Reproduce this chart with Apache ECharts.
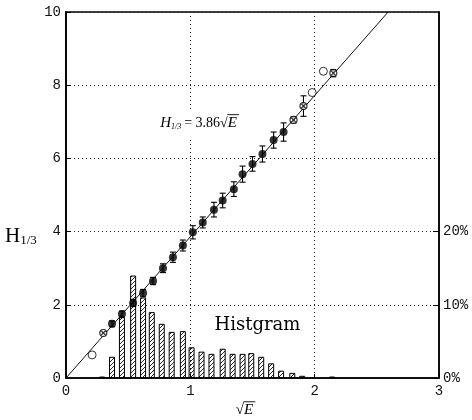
<!DOCTYPE html>
<html>
<head>
<meta charset="utf-8">
<script src="https://cdn.jsdelivr.net/npm/echarts@6/dist/echarts.min.js"></script>
<style>
html,body{margin:0;padding:0;background:#fff}
#c{width:472px;height:420px}
</style>
</head>
<body>
<div id="c"></div>
<script>
// fitted relation H1/3 = 3.86 * sqrt(E)
const slope = 3.86;

// measured points with error bars: [sqrtE, H1/3, halfError]
const filledPts = [
  [0.37,1.48,0.08],[0.45,1.75,0.08],[0.54,2.05,0.10],[0.62,2.32,0.10],
  [0.70,2.65,0.10],[0.78,3.00,0.12],[0.86,3.30,0.14],[0.94,3.62,0.15],
  [1.02,3.98,0.18],[1.10,4.25,0.15],[1.19,4.60,0.20],[1.26,4.85,0.20],
  [1.35,5.16,0.20],[1.42,5.57,0.22],[1.50,5.85,0.20],[1.58,6.12,0.22],
  [1.67,6.50,0.22],[1.75,6.72,0.25]
];
// sparse bins: plain open circles
const openPts = [[0.21,0.63],[1.98,7.80],[2.07,8.38]];
// sparse bins: crossed circles [sqrtE, H1/3, halfError]
const crossPts = [[0.30,1.23,0],[1.83,7.05,0.08],[1.91,7.43,0.28],[2.15,8.33,0.10]];

// occurrence histogram (percent per bin)
const histX   = [0.29,0.37,0.45,0.54,0.62,0.69,0.77,0.85,0.94,1.01,1.09,1.17,1.26,1.34,1.42,1.49,1.57,1.65,1.73,1.82,1.90,2.14];
const histPct = [0.2,2.9,8.3,14.0,11.0,9.0,7.4,6.3,6.4,4.2,3.6,3.3,4.0,3.3,3.3,3.4,2.9,2.0,1.0,0.7,0.3,0.2];

const xTicks = [0,1,2,3];
const yTicks = [0,2,4,6,8,10];
const pctTicks = [0,10,20];

// annotation anchors in data units
const formulaAt = [1.07, 6.97];
const histNoteAt = [1.54, 1.45];

// diagonal hatch fill for histogram bars
function hatch() {
  const c = document.createElement('canvas');
  c.width = 4; c.height = 4;
  const g = c.getContext('2d');
  g.strokeStyle = '#111';
  g.lineWidth = 0.9;
  g.beginPath();
  g.moveTo(0,4); g.lineTo(4,0);
  g.moveTo(-1,1); g.lineTo(1,-1);
  g.moveTo(3,5); g.lineTo(5,3);
  g.stroke();
  return c;
}

function renderErr(params, api) {
  const x = api.value(0), y = api.value(1), e = api.value(2);
  if (!e) return null;
  const t = api.coord([x, y + e]), b = api.coord([x, y - e]);
  const w = 3;
  const st = {stroke:'#000', lineWidth:1.1};
  return {type:'group', children:[
    {type:'line', shape:{x1:t[0],y1:t[1],x2:b[0],y2:b[1]}, style:st},
    {type:'line', shape:{x1:t[0]-w,y1:t[1],x2:t[0]+w,y2:t[1]}, style:st},
    {type:'line', shape:{x1:b[0]-w,y1:b[1],x2:b[0]+w,y2:b[1]}, style:st}
  ]};
}

const crossSymbol = 'path://M0,10A10,10 0 1,1 20,10A10,10 0 1,1 0,10Z M3,3L17,17 M17,3L3,17';

const monoLabel = {fontFamily:'Liberation Mono', fontSize:14, color:'#111'};
const dotted = {color:'#222', width:1, type:[1,3]};
const serif = 'Liberation Serif';

// text measuring for composing formula pieces
const mctx = document.createElement('canvas').getContext('2d');
function textWidth(t, size, italic) {
  mctx.font = (italic ? 'italic ' : '') + size + 'px "' + serif + '"';
  return mctx.measureText(t).width;
}

// lay out pieces left to right around a centre; the piece flagged `bar` gets a vinculum
function composeText(cx, cy, pieces, opts) {
  const widths = pieces.map(p => textWidth(p.t, p.size, p.italic) + (p.gap || 0));
  const total = widths.reduce((a, b) => a + b, 0);
  let x = cx - total / 2;
  const els = [];
  if (opts && opts.bg) {
    els.push({type:'rect', z:9, shape:{x:x - 3, y:cy - 14, width:total + 6, height:28}, style:{fill:'#fff'}});
  }
  pieces.forEach((p, i) => {
    els.push({type:'text', z:10, x:x, y:cy + (p.dy || 0),
      style:{text:p.t, fontFamily:serif, fontSize:p.size, fontStyle:p.italic ? 'italic' : 'normal',
             fill:'#000', align:'left', verticalAlign:'middle'}});
    if (p.bar) {
      els.push({type:'line', z:10, shape:{x1:x - 0.5, y1:cy - p.size * 0.55, x2:x + widths[i] + 1, y2:cy - p.size * 0.55},
        style:{stroke:'#000', lineWidth:0.9}});
    }
    x += widths[i];
  });
  return els;
}

const chart = echarts.init(document.getElementById('c'), null, {renderer:'canvas'});
chart.setOption({
  animation:false,
  backgroundColor:'#fff',
  grid:{left:66, right:33, top:12, bottom:42, show:true, borderColor:'#000', borderWidth:1.5, backgroundColor:'transparent'},
  xAxis:{
    type:'value', min:xTicks[0], max:xTicks[xTicks.length-1], interval:1,
    axisLine:{lineStyle:{color:'#000', width:1.5}},
    axisTick:{show:true, inside:true, length:4, lineStyle:{color:'#000'}},
    axisLabel:Object.assign({margin:6}, monoLabel),
    splitLine:{show:true, lineStyle:dotted}
  },
  yAxis:[{
    type:'value', min:yTicks[0], max:yTicks[yTicks.length-1], interval:2,
    axisLine:{show:true, lineStyle:{color:'#000', width:1.8}},
    axisTick:{show:true, inside:true, length:5, lineStyle:{color:'#000'}},
    axisLabel:Object.assign({margin:5}, monoLabel),
    splitLine:{show:true, lineStyle:dotted}
  },{
    type:'value', min:0, max:50, interval:10, position:'right',
    axisLine:{show:true, lineStyle:{color:'#000', width:1.5}},
    axisTick:{show:true, inside:true, length:6, customValues:pctTicks, lineStyle:{color:'#000'}},
    axisLabel:Object.assign({margin:4, customValues:pctTicks, formatter:v=>v+'%'}, monoLabel),
    splitLine:{show:false}
  }],
  series:[
    {
      type:'bar', yAxisIndex:1, barWidth:6, z:1,
      data:histX.map((x,i)=>[x, histPct[i]]),
      itemStyle:{color:{image:hatch(), repeat:'repeat'}, borderColor:'#000', borderWidth:1}
    },
    {
      type:'line', z:3, symbol:'none', silent:true,
      data:[[0,0],[yTicks[yTicks.length-1]/slope, yTicks[yTicks.length-1]]],
      lineStyle:{color:'#111', width:1}
    },
    {
      type:'custom', z:4, renderItem:renderErr,
      encode:{x:0, y:1},
      data:filledPts.concat(crossPts)
    },
    {
      type:'scatter', z:5, symbol:'circle', symbolSize:8,
      data:filledPts.map(p=>[p[0],p[1]]),
      itemStyle:{color:'#000'}
    },
    {
      type:'scatter', z:5, symbol:'circle', symbolSize:8,
      data:openPts,
      itemStyle:{color:'#fff', borderColor:'#000', borderWidth:1}
    },
    {
      type:'scatter', z:5, symbol:crossSymbol, symbolSize:7,
      data:crossPts.map(p=>[p[0],p[1]]),
      itemStyle:{color:'#fff', borderColor:'#000', borderWidth:1.2}
    }
  ]
});

// text annotations anchored through the chart's own coordinate conversion
const fPos = chart.convertToPixel({gridIndex:0}, formulaAt);
const hPos = chart.convertToPixel({gridIndex:0}, histNoteAt);
const axisMid = chart.convertToPixel({gridIndex:0}, [1.44, 0]);

const formulaEls = composeText(fPos[0], fPos[1], [
  {t:'H', size:15, italic:true},
  {t:'1/3', size:8, italic:true, dy:4, gap:3},
  {t:'= 3.86', size:14},
  {t:'√', size:14},
  {t:'E', size:15, italic:true, bar:true, gap:1}
], {bg:true});
const xNameEls = composeText(axisMid[0], axisMid[1] + 32, [
  {t:'√', size:15},
  {t:'E', size:15, italic:true, bar:true, gap:1}
]);

chart.setOption({
  graphic:[
    {
      type:'text', left:5, top:226, z:10,
      style:{text:'{h|H}{s|1/3}', rich:{
        h:{fontFamily:serif, fontSize:21, fill:'#000', lineHeight:22, verticalAlign:'bottom'},
        s:{fontFamily:serif, fontSize:13, fill:'#000', lineHeight:22, verticalAlign:'bottom'}
      }}
    },
    {type:'group', children:formulaEls},
    {type:'group', children:xNameEls},
    {
      type:'text', x:hPos[0], y:hPos[1], z:10,
      style:{text:'Histgram', align:'center', verticalAlign:'middle',
        fontFamily:'DejaVu Serif', fontSize:18, fill:'#000'}
    }
  ]
});
</script>
</body>
</html>
